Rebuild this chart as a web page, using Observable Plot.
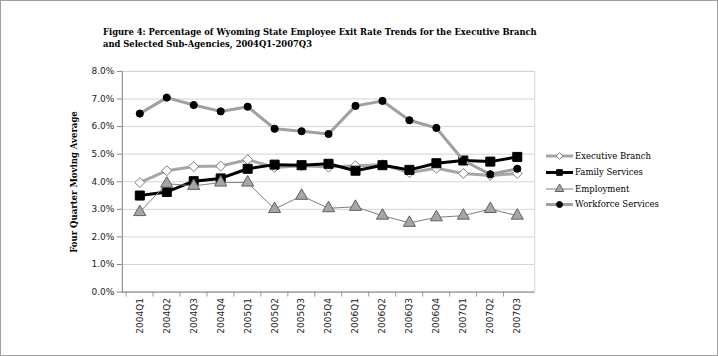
<!DOCTYPE html>
<html><head><meta charset="utf-8">
<script src="https://cdn.jsdelivr.net/npm/d3@7"></script>
<script src="https://cdn.jsdelivr.net/npm/@observablehq/plot@0.6"></script>
<style>
html,body{margin:0;padding:0;background:#fff;}
#wrap{position:relative;width:718px;height:356px;box-sizing:border-box;border:1px solid #a0a0a0;overflow:hidden;background:#fff}
#chart{position:absolute;left:-1px;top:-1px}
#title{position:absolute;left:102px;top:25px;font-family:"DejaVu Serif";font-weight:bold;font-size:8.4px;line-height:12px;color:#000;white-space:nowrap}
#overlay{position:absolute;left:-1px;top:-1px;pointer-events:none}
</style></head><body>
<div id="wrap"><div id="chart"></div><svg id="overlay" width="718" height="356"></svg>
<div id="title">Figure 4: Percentage of Wyoming State Employee Exit Rate Trends for the Executive Branch<br>and Selected Sub-Agencies, 2004Q1-2007Q3</div></div>
<script>
const quarters = ["2004Q1","2004Q2","2004Q3","2004Q4","2005Q1","2005Q2","2005Q3","2005Q4","2006Q1","2006Q2","2006Q3","2006Q4","2007Q1","2007Q2","2007Q3"];
const executiveBranch = [3.97,4.40,4.55,4.57,4.80,4.52,4.58,4.53,4.58,4.62,4.33,4.49,4.30,4.23,4.30];
const familyServices = [3.50,3.63,4.02,4.12,4.47,4.62,4.60,4.65,4.40,4.60,4.43,4.67,4.77,4.73,4.90];
const employment = [2.90,3.93,3.85,3.97,3.97,3.01,3.49,3.04,3.09,2.77,2.51,2.71,2.77,3.01,2.77];
const workforceServices = [6.47,7.05,6.78,6.55,6.72,5.92,5.83,5.73,6.75,6.93,6.23,5.95,4.77,4.27,4.47];
const seriesNames = ["Executive Branch","Family Services","Employment","Workforce Services"];
const yTicks = [0,0.01,0.02,0.03,0.04,0.05,0.06,0.07,0.08];

const seriesValues = [executiveBranch, familyServices, employment, workforceServices];
const rows = seriesNames.flatMap((name, s) => seriesValues[s].map((v, i) => ({series: name, q: quarters[i], v: v / 100})));

const styles = {
  "Executive Branch": {line: "#a6a6a6", lw: 3, symbol: "diamond2", fill: "#ffffff", stroke: "#7a7a7a", r: 4.5, lr: 3},
  "Family Services": {line: "#000000", lw: 3, symbol: "square", fill: "#000000", stroke: "#000000", r: 5.1, lr: 3.2},
  "Employment": {line: "#808080", lw: 1, symbol: "triangle", fill: "#a6a6a6", stroke: "#606060", r: 4.5, lr: 3.2},
  "Workforce Services": {line: "#a0a0a0", lw: 3, symbol: "circle", fill: "#000000", stroke: "#000000", r: 3.6, lr: 3}
};

const W = 718, H = 356, mL = 122, mR = 183, mT = 71, mB = 64;
const bw = (W - mL - mR) / quarters.length;

const marks = [
  Plot.gridY(yTicks, {stroke: "#d4d4d4", strokeOpacity: 1}),
  Plot.frame({stroke: "#d4d4d4"}),
  Plot.axisY({ticks: yTicks, tickFormat: ".1%", tickSize: 5, tickPadding: 3, stroke: "#8a8a8a", fill: "#222", fontSize: 9}),
  Plot.axisX({tickSize: 5, text: null, dx: -bw / 2, stroke: "#9a9a9a"}),
  Plot.axisX({tickSize: 0, tickRotate: -90, tickPadding: 6, fill: "#222", fontSize: 9}),
  Plot.ruleY([0], {stroke: "#8a8a8a"}),
  Plot.frame({anchor: "left", stroke: "#8a8a8a"})
];
for (const name of seriesNames) {
  const st = styles[name];
  const data = rows.filter(d => d.series === name);
  marks.push(Plot.line(data, {x: "q", y: "v", stroke: st.line, strokeWidth: st.lw}));
  marks.push(Plot.dot(data, {x: "q", y: "v", symbol: () => st.symbol, r: st.r, fill: st.fill, stroke: st.stroke, strokeWidth: 1}));
}

const chart = Plot.plot({
  width: W, height: H, marginLeft: mL, marginRight: mR, marginTop: mT, marginBottom: mB,
  style: {fontFamily: "DejaVu Sans", fontSize: "9px", background: "white", color: "#222"},
  x: {type: "band", domain: quarters, padding: 0, label: null},
  y: {domain: [0, 0.08], label: null},
  marks
});
document.getElementById("chart").appendChild(chart);

// legend + y title
const svg = d3.select("#overlay");
svg.append("text").attr("transform", "translate(77,182) rotate(-90)")
  .attr("text-anchor", "middle").attr("font-family", "DejaVu Serif").attr("font-weight", "bold")
  .attr("font-size", 8.5).text("Four Quarter Moving Average");
const symMap = {circle: d3.symbolCircle, square: d3.symbolSquare, triangle: d3.symbolTriangle, diamond2: d3.symbolDiamond2};
const legendY = [156, 172.5, 189, 204.5];
seriesNames.forEach((name, i) => {
  const st = styles[name];
  const g = svg.append("g").attr("transform", `translate(0,${legendY[i]})`);
  g.append("line").attr("x1", 546).attr("x2", 573).attr("stroke", st.line).attr("stroke-width", st.lw);
  g.append("path").attr("transform", "translate(559.5,0)")
    .attr("d", d3.symbol(symMap[st.symbol], Math.PI * st.lr * st.lr)())
    .attr("fill", st.fill).attr("stroke", st.stroke).attr("stroke-width", 1);
  g.append("text").attr("x", 575).attr("dy", "0.35em").attr("font-family", "DejaVu Serif")
    .attr("font-size", 8.5).text(name);
});
</script>
</body></html>
